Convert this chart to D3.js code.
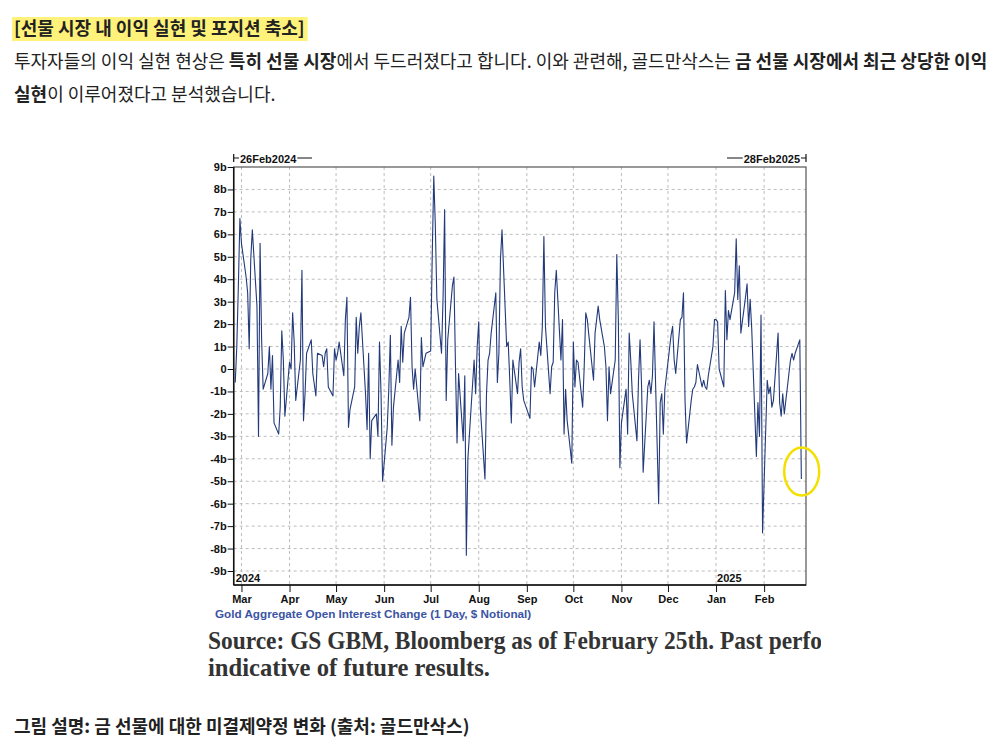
<!DOCTYPE html>
<html><head><meta charset="utf-8">
<script src="https://cdn.jsdelivr.net/npm/d3@7"></script>
<style>
html,body{margin:0;padding:0;background:#fff;}
svg{display:block;}
</style></head>
<body>
<svg id="c" width="1004" height="745"></svg>
<script>
// Gold aggregate open interest change, 1 day, $ notional (billions), one array per month
const feb24 = [-0.6, 1.0, 3.7, 6.7];
const mar24 = [5.6, 4.1, 3.4, 0.9, 4.9, 6.2, 2.8, -3.0, 5.6, 1.3, -0.9, -0.2, 1.0, -0.9, 0.6, -2.4, -2.9, -1.7, 1.7, 0.4, -2.1];
const apr24 = [0.3, 0, 2.5, 1.2, -1.4, 0.4, 4.4, -2.3, -1.1, 0.7, 1.3, -0.2, -0.7, -1.2, 0.7, 0.6, 0.1, 0.7, 0.9, -0.8, -1.2, 0.9];
const may24 = [0.4, 0.7, 1.2, -0.3, 2.2, 3.2, -2.6, -1.8, -0.8, 2.3, 0.7, 1.9, 2.5, -1.1, -2.7, 0.7, -4.0, -2.3, -2.0, -3.0, 1.2, -1.1, -5.0];
const jun24 = [-2.6, -0.9, 1.5, -3.4, -1.7, 0.4, -0.6, 1.9, 0.3, 1.6, 2.3, 3.2, 0.1, -0.9, 0, -2.3, 1.4, 0.1, 0.4, 0.7];
const jul24 = [0.8, 5.0, 8.6, 6.4, 3.1, 0.7, 3.2, 7.1, -1.4, 1.3, 3.7, 4.1, 0.1, -3.3, -0.2, -3.2, -0.3, -8.3, -4.0, -2.9, 0.4, -1.1, 1.0];
const aug24 = [2.1, -1.7, -4.9, -1.1, 0.4, 0.7, 1.6, 3.4, -0.6, 0.7, 4.9, 6.2, 1.0, 1.2, -0.5, -2.4, 0.4, -1.1, 0.3, 0.9, -0.8, -1.4];
const sep24 = [-2.0, -2.2, 0.1, 0, -0.8, 1.2, 0.6, 1.9, 5.9, 1.9, -1.1, 0.1, 0.3, 3.4, 4.4, 0.4, 2.2, -2.9, -0.9, -2.3, -4.2];
const oct24 = [1.2, -0.8, 0.4, 0.3, -1.7, 0.1, 2.5, 2.2, 1.5, -0.5, 1.6, 2.2, 2.8, 2.2, 1.0, 0.1, -2.3, 0.1, -1.1, 0.4, 5.1, 2.2, -4.4];
const nov24 = [-2.4, -0.9, -2.9, 1.6, 0.4, -1.1, -3.2, -0.5, 1.3, -0.8, -4.6, -0.8, -0.5, -1.1, -0.3, 2.1, -6.0, -1.5, -1.1, -2.9, -0.9];
const dec24 = [0.9, 1.5, 1.9, 0.4, -0.2, 2.2, 2.3, 3.4, -1.4, -3.3, -1.4, -0.9, -0.8, -0.6, 0.2, -0.8, -0.5, -0.8, -0.9, -0.3, 1.0, 2.2];
const jan25 = [2.2, 2.1, 0, -0.8, 3.5, 1.3, 2.6, 2.2, 3.4, 5.8, 3.1, 4.6, 1.6, 3.2, 3.8, 1.9, 3.1, 1.8, -3.9, -1.5, -3.0, 2.4, -7.3];
const feb25 = [-0.5, -1.1, -0.8, -1.7, -1.4, 1.6, -1.5, -2.1, -1.1, -2.0, -0.2, 0.4, 0.7, 0.4, 0.7, 1.3, -4.9];

const months = [
  {y:2024, m:1, from:26, to:29, v:feb24}, {y:2024, m:2, from:1, to:31, v:mar24},
  {y:2024, m:3, from:1, to:30, v:apr24}, {y:2024, m:4, from:1, to:31, v:may24},
  {y:2024, m:5, from:1, to:30, v:jun24}, {y:2024, m:6, from:1, to:31, v:jul24},
  {y:2024, m:7, from:1, to:31, v:aug24}, {y:2024, m:8, from:1, to:30, v:sep24},
  {y:2024, m:9, from:1, to:31, v:oct24}, {y:2024, m:10, from:1, to:30, v:nov24},
  {y:2024, m:11, from:1, to:31, v:dec24}, {y:2025, m:0, from:1, to:31, v:jan25},
  {y:2025, m:1, from:1, to:25, v:feb25}
];

const xTickLabels = ["Mar","Apr","May","Jun","Jul","Aug","Sep","Oct","Nov","Dec","Jan","Feb"];
const xTickDates = [[2024,2],[2024,3],[2024,4],[2024,5],[2024,6],[2024,7],[2024,8],[2024,9],[2024,10],[2024,11],[2025,0],[2025,1]];
const yTickValues = [-9,-8,-7,-6,-5,-4,-3,-2,-1,0,1,2,3,4,5,6,7,8,9];
const yTickLabels = ["-9b","-8b","-7b","-6b","-5b","-4b","-3b","-2b","-1b","0","1b","2b","3b","4b","5b","6b","7b","8b","9b"];
const startLabel = "26Feb2024", endLabel = "28Feb2025";
const seriesName = "Gold Aggregate Open Interest Change (1 Day, $ Notional)";

// build the dated series (weekdays of each month)
const data = [];
months.forEach(mo => {
  const days = [];
  for (let d = mo.from; d <= mo.to; d++) {
    const dt = new Date(mo.y, mo.m, d);
    const wd = dt.getDay();
    if (wd !== 0 && wd !== 6) days.push(dt);
  }
  const n = Math.min(days.length, mo.v.length);
  for (let i = 0; i < n; i++) data.push({date: days[i], value: mo.v[i]});
});

const svg = d3.select("#c");
const FONT_KR = "'Noto Sans CJK KR','Noto Sans',sans-serif";
const FONT_AR = "'Liberation Sans',Arial,sans-serif";
const FONT_SERIF = "'Liberation Serif','DejaVu Serif',serif";

// ---- header text ----
const hl = svg.append("rect").attr("x", 12).attr("y", 17).attr("height", 24).attr("fill", "#fff27a");
const tt = svg.append("text").attr("x", 14).attr("y", 35).attr("font-family", FONT_KR).attr("font-size", 18)
  .attr("font-weight", 700).attr("fill", "#222").text("[선물 시장 내 이익 실현 및 포지션 축소]");
hl.attr("width", tt.node().getComputedTextLength() + 5);

const line2 = [["투자자들의 이익 실현 현상은 ", 400], ["특히 선물 시장", 700], ["에서 두드러졌다고 합니다. 이와 관련해, 골드만삭스는 ", 400], ["금 선물 시장에서 최근 상당한 이익", 700]];
const t2 = svg.append("text").attr("x", 14).attr("y", 68).attr("font-family", FONT_KR).attr("font-size", 18).attr("fill", "#222");
line2.forEach(s => t2.append("tspan").attr("font-weight", s[1]).text(s[0]));
const line3 = [["실현", 700], ["이 이루어졌다고 분석했습니다.", 400]];
const t3 = svg.append("text").attr("x", 14).attr("y", 101).attr("font-family", FONT_KR).attr("font-size", 18).attr("fill", "#222");
line3.forEach(s => t3.append("tspan").attr("font-weight", s[1]).text(s[0]));

svg.append("text").attr("x", 14).attr("y", 733).attr("font-family", FONT_KR).attr("font-size", 18)
  .attr("font-weight", 700).attr("fill", "#222").text("그림 설명: 금 선물에 대한 미결제약정 변화 (출처: 골드만삭스)");

// ---- chart ----
const L = 233.7, R = 806, T = 167, B = 585;
const x = d3.scaleTime().domain([new Date(2024,1,25), new Date(2025,1,28)]).range([L, R]);
const y = d3.scaleLinear().domain([-9, 9]).range([571, 167]);
const g = svg.append("g");
const tickDates = xTickDates.map(d => new Date(d[0], d[1], 1));

// gridlines
g.append("g").selectAll("line").data(yTickValues.filter(v => v !== 9)).join("line")
  .attr("x1", L).attr("x2", R).attr("y1", d => y(d)).attr("y2", d => y(d))
  .attr("stroke", "#bdbdbd").attr("stroke-dasharray", "3,3").attr("stroke-width", 1);
g.append("g").selectAll("line").data(tickDates).join("line")
  .attr("x1", d => x(d)).attr("x2", d => x(d)).attr("y1", T).attr("y2", B)
  .attr("stroke", "#bdbdbd").attr("stroke-dasharray", "3,3").attr("stroke-width", 1);

// series line
g.append("path").datum(data)
  .attr("d", d3.line().x(d => x(d.date)).y(d => y(d.value)))
  .attr("fill", "none").attr("stroke", "#22397a").attr("stroke-width", 1.1).attr("stroke-linejoin", "round");

// frame
g.append("rect").attr("x", L).attr("y", T).attr("width", R - L).attr("height", B - T)
  .attr("fill", "none").attr("stroke", "#555").attr("stroke-width", 1.2);
g.append("line").attr("x1", L).attr("x2", L).attr("y1", T).attr("y2", B).attr("stroke", "#111").attr("stroke-width", 1.5);
g.append("line").attr("x1", L).attr("x2", R).attr("y1", B).attr("y2", B).attr("stroke", "#111").attr("stroke-width", 1.5);

// y axis
const ya = g.append("g").attr("transform", `translate(${L},0)`)
  .call(d3.axisLeft(y).tickValues(yTickValues).tickFormat((d, i) => yTickLabels[i]).tickSize(6).tickPadding(1));
ya.select(".domain").remove();
ya.selectAll("line").attr("stroke", "#111");
ya.selectAll("text").attr("font-family", FONT_AR).attr("font-size", 11).attr("font-weight", 700).attr("fill", "#111");

// x axis
const xa = g.append("g").attr("transform", `translate(0,${B})`)
  .call(d3.axisBottom(x).tickValues(tickDates).tickFormat((d, i) => xTickLabels[i]).tickSize(7).tickPadding(3));
xa.select(".domain").remove();
xa.selectAll("line").attr("stroke", "#111");
xa.selectAll("text").attr("font-family", FONT_AR).attr("font-size", 11).attr("font-weight", 700).attr("fill", "#111");

// year labels
g.append("text").attr("x", L + 2).attr("y", 582).attr("font-family", FONT_AR).attr("font-size", 11)
  .attr("font-weight", 700).attr("fill", "#111").text("2024");
g.append("text").attr("x", x(new Date(2025,0,1)) + 1).attr("y", 582).attr("font-family", FONT_AR).attr("font-size", 11)
  .attr("font-weight", 700).attr("fill", "#111").text("2025");

// start / end labels
const sl = g.append("text").attr("x", 240).attr("y", 163).attr("font-family", FONT_AR).attr("font-size", 11)
  .attr("font-weight", 700).attr("fill", "#111").text(startLabel);
const slw = sl.node().getComputedTextLength();
g.append("path").attr("d", `M${L},154V162M${L},158H239M${240 + slw + 1},158H312`).attr("stroke", "#111").attr("stroke-width", 1.2).attr("fill", "none");
const el = g.append("text").attr("x", 800).attr("y", 163).attr("text-anchor", "end").attr("font-family", FONT_AR).attr("font-size", 11)
  .attr("font-weight", 700).attr("fill", "#111").text(endLabel);
const elw = el.node().getComputedTextLength();
g.append("path").attr("d", `M${R},154V162M${R},158H801M${800 - elw - 1},158H727`).attr("stroke", "#111").attr("stroke-width", 1.2).attr("fill", "none");

// series name
g.append("text").attr("x", 215).attr("y", 618).attr("font-family", FONT_AR).attr("font-size", 11.7)
  .attr("font-weight", 700).attr("fill", "#3b54a4").text(seriesName);

// highlight ellipse
g.append("ellipse").attr("cx", 801.7).attr("cy", 471.5).attr("rx", 17.5).attr("ry", 24)
  .attr("fill", "none").attr("stroke", "#f3e000").attr("stroke-width", 2.5);

// source text (cropped at image edge)
svg.append("defs").append("clipPath").attr("id", "clipSrc").append("rect")
  .attr("x", 200).attr("y", 620).attr("width", 621).attr("height", 70);
const src = svg.append("g").attr("clip-path", "url(#clipSrc)");
src.append("text").attr("x", 208).attr("y", 649).attr("font-family", FONT_SERIF)
  .attr("font-size", 24.5).attr("font-weight", 700).attr("fill", "#333")
  .attr("textLength", 614).attr("lengthAdjust", "spacingAndGlyphs")
  .text("Source: GS GBM, Bloomberg as of February 25th. Past perfo");
src.append("text").attr("x", 208).attr("y", 676).attr("font-family", FONT_SERIF)
  .attr("font-size", 24.5).attr("font-weight", 700).attr("fill", "#333")
  .attr("textLength", 282).attr("lengthAdjust", "spacingAndGlyphs")
  .text("indicative of future results.");
</script>
</body></html>
